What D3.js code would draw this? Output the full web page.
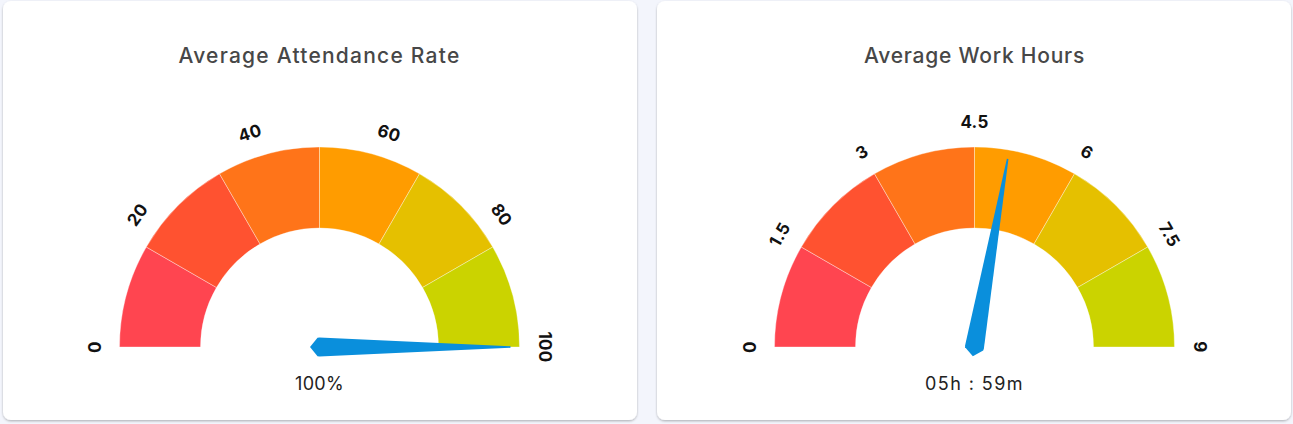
<!DOCTYPE html>
<html>
<head>
<meta charset="utf-8">
<script src="https://cdn.jsdelivr.net/npm/d3@7"></script>
<style>
  html, body { margin: 0; padding: 0; background: #f3f5fc; }
  svg { display: block; }
</style>
</head>
<body>
<svg id="chart" width="1293" height="424"></svg>
<script>
// ---- data ----
const titles = ["Average Attendance Rate", "Average Work Hours"];
const maxValues = [100, 9];
const needleValues = [100, 5.0];
const valueTexts = ["100%", "05h : 59m"];
const ticksAttendance = ["0", "20", "40", "60", "80", "100"];
const ticksHours = ["0", "1.5", "3", "4.5", "6", "7.5", "9"];
const segmentColors = ["#ff4550", "#ff5230", "#ff7419", "#ff9c00", "#e5c000", "#cbd300"];
const tickSets = [ticksAttendance, ticksHours];

// ---- layout ----
const svg = d3.select("#chart");
const defs = svg.append("defs");
const f = defs.append("filter").attr("id", "sh").attr("x", "-5%").attr("y", "-5%").attr("width", "110%").attr("height", "110%");
f.append("feDropShadow").attr("dx", 0).attr("dy", 1.2).attr("stdDeviation", 1.3)
  .attr("flood-color", "#000").attr("flood-opacity", 0.28);

const cards = [{x: 3, w: 634}, {x: 657, w: 634}];
const centers = [{x: 319.5, y: 347}, {x: 974.5, y: 347}];
const outerR = 200, innerR = 119, labelR = 225, needleLen = 191;
const titleWidths = [282, 221];
const valueWidths = [49, 99];

function fitSpacing(sel, target) {
  const n = sel.text().length;
  const w = sel.node().getComputedTextLength();
  if (n > 1) sel.style("letter-spacing", Math.max(0, (target - w) / n) + "px");
}

cards.forEach((c, i) => {
  svg.append("rect").attr("x", c.x).attr("y", 1).attr("width", c.w).attr("height", 419)
    .attr("rx", 8).attr("fill", "#fff").attr("filter", "url(#sh)");

  const g = svg.append("g").attr("transform", `translate(${centers[i].x},${centers[i].y})`);

  const t = svg.append("text").attr("x", centers[i].x).attr("y", 55)
    .attr("text-anchor", "middle").attr("dominant-baseline", "central")
    .style("font-family", "Inter, 'Noto Sans', sans-serif").style("font-weight", 500)
    .style("font-size", "21px").style("fill", "#474747").text(titles[i]);
  fitSpacing(t, titleWidths[i]);

  const maxV = maxValues[i];
  const angle = d3.scaleLinear().domain([0, maxV]).range([-Math.PI / 2, Math.PI / 2]);
  const segScale = d3.scaleLinear().domain([0, segmentColors.length]).range([-Math.PI / 2, Math.PI / 2]);
  const arc = d3.arc().innerRadius(innerR).outerRadius(outerR);

  g.selectAll("path.seg").data(segmentColors).join("path").attr("class", "seg")
    .attr("d", (d, k) => arc({startAngle: segScale(k), endAngle: segScale(k + 1)}))
    .attr("fill", d => d).attr("stroke", "#fff").attr("stroke-width", 0.6).attr("stroke-opacity", 0.6);

  // tick labels
  const ticks = tickSets[i];
  g.selectAll("text.tick").data(ticks).join("text").attr("class", "tick")
    .attr("transform", d => {
      const a = angle(+d);
      const deg = a * 180 / Math.PI;
      return `translate(${labelR * Math.sin(a)},${-labelR * Math.cos(a)}) rotate(${deg})`;
    })
    .attr("text-anchor", "middle").attr("dominant-baseline", "central")
    .style("font-family", "Inter, 'Noto Sans', sans-serif").style("font-weight", 700)
    .style("font-size", "17px").style("letter-spacing", "0.3px").style("fill", "#111").text(d => d);

  // needle
  const a = angle(needleValues[i]);
  const deg = a * 180 / Math.PI - 90; // local +x axis pointing toward value
  const pts = [[-9.5, 0], [-2, -9.2], [0, -9.5], [needleLen, -0.8], [needleLen, 0.8], [0, 9.5], [-2, 9.2]];
  g.append("path").attr("d", d3.line()(pts) + "Z")
    .attr("transform", `rotate(${deg})`).attr("fill", "#0a8fdc");

  const v = svg.append("text").attr("x", centers[i].x).attr("y", 383)
    .attr("text-anchor", "middle").attr("dominant-baseline", "central")
    .style("font-family", "Inter, 'Noto Sans', sans-serif").style("font-weight", 400)
    .style("font-size", "18px").style("fill", "#222").text(valueTexts[i]);
  fitSpacing(v, valueWidths[i]);
});
</script>
</body>
</html>
